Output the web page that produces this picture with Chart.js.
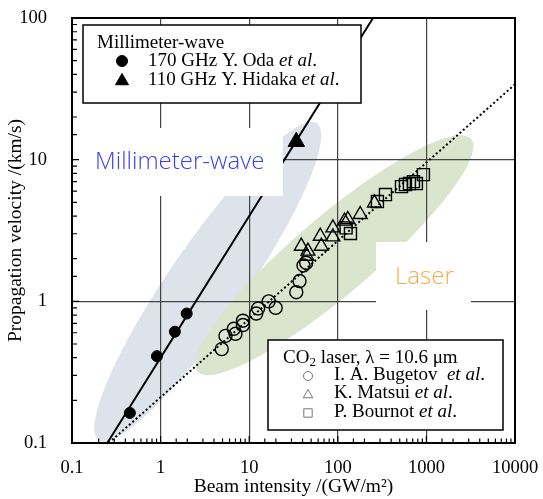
<!DOCTYPE html>
<html>
<head>
<meta charset="utf-8">
<script src="https://cdn.jsdelivr.net/npm/chart.js@4.4.1/dist/chart.umd.min.js"></script>
<style>
  html, body { margin: 0; padding: 0; background: #fff; }
  #wrap { width: 543px; height: 499px; }
</style>
</head>
<body>
<div id="wrap"><canvas id="chart" width="543" height="499"></canvas></div>
<script>
// Propagation velocity vs beam intensity (log-log)

// Millimeter-wave data
const odaIntensity = [0.45, 0.91, 1.45, 1.97];
const odaVelocity = [0.163, 0.41, 0.61, 0.82];
const hidakaIntensity = [34];
const hidakaVelocity = [13.4];

// CO2 laser data
const bugetovIntensity = [4.9, 5.4, 7.0, 6.7, 8.5, 8.5, 12.0, 12.6, 16.6, 19.9, 34, 37, 41, 44];
const bugetovVelocity = [0.46, 0.57, 0.59, 0.64, 0.68, 0.73, 0.82, 0.89, 1.0, 0.90, 1.16, 1.39, 1.79, 1.87];
const matsuiIntensity = [38.7, 44.8, 46, 63.4, 65.1, 88, 88, 119, 130, 179, 259];
const matsuiVelocity = [2.45, 2.08, 2.26, 2.88, 2.45, 3.30, 2.85, 3.68, 3.78, 4.10, 4.95];
const bournotIntensity = [139, 124, 280, 345, 523, 580, 643, 714, 771, 925];
const bournotVelocity = [3.01, 3.30, 5.06, 5.67, 6.45, 6.67, 6.78, 7.0, 6.78, 7.84];

// Trend lines (end points)
const mmFitIntensity = [0.25, 250];
const mmFitVelocity = [0.1, 100];
const laserFitIntensity = [0.26, 10000];
const laserFitVelocity = [0.1, 34];

// Shaded regions: ends of the long axis in data units
const mmRegionIntensity = [0.2, 58];
const mmRegionVelocity = [0.105, 18];
const laserRegionIntensity = [2.6, 3200];
const laserRegionVelocity = [0.32, 14];

// Axis range
const xRange = [0.1, 10000];
const yRange = [0.1, 100];

const SERIF = '"Liberation Serif", "Times New Roman", serif';
const SANS = '"Open Sans", "Noto Sans", sans-serif';

function toPoints(xs, ys) {
    return xs.map((x, i) => ({ x: x, y: ys[i] }));
}

function isDecade(v) {
    const l = Math.log10(v);
    return Math.abs(l - Math.round(l)) < 1e-9;
}

function drawRegion(ctx, chart, xs, ys, halfWidth, color) {
    const sx = chart.scales.x, sy = chart.scales.y;
    const x1 = sx.getPixelForValue(xs[0]), y1 = sy.getPixelForValue(ys[0]);
    const x2 = sx.getPixelForValue(xs[1]), y2 = sy.getPixelForValue(ys[1]);
    const a = Math.hypot(x2 - x1, y2 - y1) / 2;
    ctx.beginPath();
    ctx.ellipse((x1 + x2) / 2, (y1 + y2) / 2, a, halfWidth, Math.atan2(y2 - y1, x2 - x1), 0, Math.PI * 2);
    ctx.fillStyle = color;
    ctx.fill();
}

function drawRuns(ctx, x, y, runs) {
    runs.forEach(r => {
        ctx.font = r[1];
        ctx.fillText(r[0], x, y + (r[2] || 0));
        x += ctx.measureText(r[0]).width;
    });
}

function marker(ctx, style, x, y, r, filled) {
    ctx.beginPath();
    if (style === 'circle') {
        ctx.arc(x, y, r, 0, Math.PI * 2);
    } else if (style === 'triangle') {
        ctx.moveTo(x, y - r);
        ctx.lineTo(x + r * 0.866, y + r * 0.5);
        ctx.lineTo(x - r * 0.866, y + r * 0.5);
        ctx.closePath();
    } else {
        ctx.rect(x - r, y - r, 2 * r, 2 * r);
    }
    if (filled) ctx.fill();
    ctx.stroke();
}

const overlay = {
    id: 'overlay',
    beforeDraw(chart) {
        const ctx = chart.ctx;
        ctx.save();
        drawRegion(ctx, chart, mmRegionIntensity, mmRegionVelocity, 38, '#dde2eb');
        drawRegion(ctx, chart, laserRegionIntensity, laserRegionVelocity, 39, '#dbe5cd');
        ctx.restore();
    },
    afterDatasetsDraw(chart) {
        const ctx = chart.ctx;
        const area = chart.chartArea;
        const sx = chart.scales.x, sy = chart.scales.y;
        ctx.save();

        // white boxes behind the region labels
        ctx.fillStyle = '#fff';
        ctx.fillRect(area.left + 2, 128, 283 - area.left - 2, 68);
        ctx.fillRect(376, 242, 95, 68);

        ctx.textBaseline = 'middle';
        ctx.textAlign = 'left';
        ctx.font = '300 24px ' + SANS;
        ctx.fillStyle = '#3c3cf2';
        ctx.fillText('Millimeter-wave', 95, 162);
        ctx.fillStyle = '#f5ad45';
        ctx.fillText('Laser', 395, 277);

        // inner minor ticks
        ctx.strokeStyle = '#000';
        ctx.lineWidth = 1.2;
        ctx.beginPath();
        sx.ticks.forEach(t => {
            const px = sx.getPixelForValue(t.value);
            const len = isDecade(t.value) ? 7 : 4.5;
            ctx.moveTo(px, area.bottom);
            ctx.lineTo(px, area.bottom - len);
        });
        sy.ticks.forEach(t => {
            const py = sy.getPixelForValue(t.value);
            const len = isDecade(t.value) ? 7 : 5;
            ctx.moveTo(area.left, py);
            ctx.lineTo(area.left + len, py);
        });
        ctx.stroke();

        // frame
        ctx.lineWidth = 2;
        ctx.strokeRect(area.left, area.top, area.right - area.left, area.bottom - area.top);

        // legend: millimeter-wave
        ctx.fillStyle = '#fff';
        ctx.lineWidth = 1.5;
        ctx.fillRect(83, 25, 278, 78);
        ctx.strokeRect(83, 25, 278, 78);
        ctx.fillStyle = '#000';
        const up = '19px ' + SERIF, it = 'italic 19px ' + SERIF;
        drawRuns(ctx, 97, 43, [['Millimeter-wave', up]]);
        ctx.lineWidth = 1;
        marker(ctx, 'circle', 122, 61, 5.5, true);
        marker(ctx, 'triangle', 122, 81, 7.5, true);
        drawRuns(ctx, 148, 61, [['170 GHz Y. Oda ', up], ['et al', it], ['.', up]]);
        drawRuns(ctx, 148, 80, [['110 GHz Y. Hidaka ', up], ['et al', it], ['.', up]]);

        // legend: CO2 laser
        ctx.fillStyle = '#fff';
        ctx.lineWidth = 1.5;
        ctx.fillRect(268, 340, 235, 90);
        ctx.strokeRect(268, 340, 235, 90);
        ctx.fillStyle = '#000';
        drawRuns(ctx, 283, 358, [['CO', up], ['2', '13px ' + SERIF, 5], [' laser, \u03bb = 10.6 \u03bcm', up]]);
        drawRuns(ctx, 334, 375, [['I. A. Bugetov  ', up], ['et al', it], ['.', up]]);
        drawRuns(ctx, 334, 393, [['K. Matsui ', up], ['et al', it], ['.', up]]);
        drawRuns(ctx, 334, 412, [['P. Bournot ', up], ['et al', it], ['.', up]]);
        ctx.strokeStyle = '#777';
        ctx.lineWidth = 1;
        marker(ctx, 'circle', 308, 376, 4.5, false);
        marker(ctx, 'triangle', 308, 395, 5.5, false);
        marker(ctx, 'rect', 308, 413, 4.2, false);

        ctx.restore();
    }
};

const openStyle = {
    backgroundColor: 'rgba(0,0,0,0)',
    borderColor: '#000',
    borderWidth: 1.4
};

new Chart(document.getElementById('chart'), {
    type: 'scatter',
    data: {
        datasets: [
            Object.assign({ label: 'Bugetov', data: toPoints(bugetovIntensity, bugetovVelocity), pointStyle: 'circle', pointRadius: 6.5 }, openStyle),
            Object.assign({ label: 'Matsui', data: toPoints(matsuiIntensity, matsuiVelocity), pointStyle: 'triangle', pointRadius: 8 }, openStyle),
            Object.assign({ label: 'Bournot', data: toPoints(bournotIntensity, bournotVelocity), pointStyle: 'rect', pointRadius: 8.5 }, openStyle),
            {
                label: 'Oda', data: toPoints(odaIntensity, odaVelocity),
                pointStyle: 'circle', pointRadius: 5.5,
                backgroundColor: '#000', borderColor: '#000', borderWidth: 1
            },
            {
                label: 'Hidaka', data: toPoints(hidakaIntensity, hidakaVelocity),
                pointStyle: 'triangle', pointRadius: 9.5,
                backgroundColor: '#000', borderColor: '#000', borderWidth: 1
            },
            {
                label: 'mm fit', data: toPoints(mmFitIntensity, mmFitVelocity),
                showLine: true, pointRadius: 0, borderColor: '#000', borderWidth: 2
            },
            {
                label: 'laser fit', data: toPoints(laserFitIntensity, laserFitVelocity),
                showLine: true, pointRadius: 0, borderColor: '#000', borderWidth: 2,
                borderDash: [2, 2.5]
            }
        ]
    },
    options: {
        responsive: false,
        animation: false,
        layout: { padding: { left: 0, top: 18, right: 28, bottom: 0 } },
        plugins: {
            legend: { display: false },
            tooltip: { enabled: false }
        },
        scales: {
            x: {
                type: 'logarithmic',
                min: xRange[0],
                max: xRange[1],
                afterFit: s => {
                    s.height = 56;
                    s.paddingLeft = 0;
                    s.paddingRight = 0;
                },
                grid: {
                    color: c => (c.tick && isDecade(c.tick.value)) ? '#444' : 'rgba(0,0,0,0)',
                    lineWidth: 1.2,
                    drawTicks: false
                },
                border: { color: '#000', width: 2 },
                ticks: {
                    autoSkip: false,
                    maxRotation: 0,
                    padding: 14,
                    color: '#000',
                    font: { family: SERIF, size: 18.5 },
                    callback: v => isDecade(v) ? String(+v.toPrecision(1)) : ''
                },
                title: {
                    display: true,
                    text: 'Beam intensity /(GW/m\u00b2)',
                    color: '#000',
                    font: { family: SERIF, size: 19.5 },
                    padding: { top: 0, bottom: 0 }
                }
            },
            y: {
                type: 'logarithmic',
                min: yRange[0],
                max: yRange[1],
                afterFit: s => {
                    s.width = 72;
                    s.paddingTop = 0;
                    s.paddingBottom = 0;
                },
                grid: {
                    color: c => (c.tick && isDecade(c.tick.value)) ? '#444' : 'rgba(0,0,0,0)',
                    lineWidth: 1.2,
                    drawTicks: false
                },
                border: { color: '#000', width: 2 },
                ticks: {
                    autoSkip: false,
                    padding: 25,
                    color: '#000',
                    font: { family: SERIF, size: 18.5 },
                    callback: v => isDecade(v) ? String(+v.toPrecision(1)) : ''
                },
                title: {
                    display: true,
                    text: 'Propagation velocity /(km/s)',
                    color: '#000',
                    font: { family: SERIF, size: 19.5 },
                    padding: { top: 4, bottom: 0 }
                }
            }
        }
    },
    plugins: [overlay]
});
</script>
</body>
</html>
